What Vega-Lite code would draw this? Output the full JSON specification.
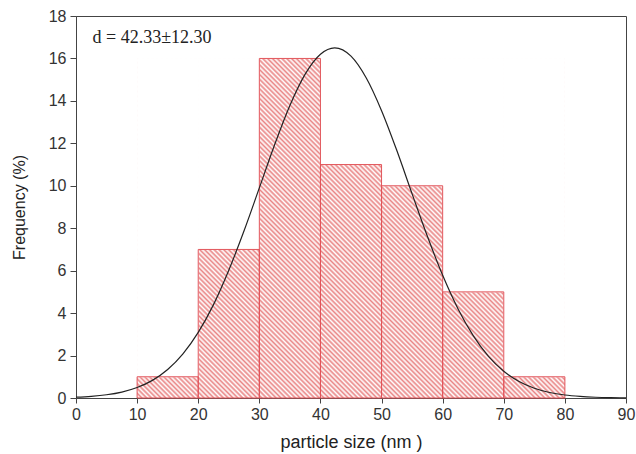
{
  "$schema": "https://vega.github.io/schema/vega-lite/v6.json",
  "width": 550,
  "height": 382,
  "autosize": "none",
  "padding": {"left": 76, "top": 16, "right": 10, "bottom": 56},
  "background": "white",
  "config": {
    "view": {"stroke": "#444", "strokeWidth": 1},
    "font": "Liberation Sans",
    "axis": {"labelFont": "Liberation Sans", "titleFont": "Liberation Sans", "labelColor": "#333", "titleColor": "#222", "domainColor": "#444", "tickColor": "#444", "grid": false, "labelFontSize": 16, "titleFontWeight": "normal", "zindex": 1}
  },
  "datasets": {
    "bars": [
      {"start": 10, "end": 20, "freq": 1},
      {"start": 20, "end": 30, "freq": 7},
      {"start": 30, "end": 40, "freq": 16},
      {"start": 40, "end": 50, "freq": 11},
      {"start": 50, "end": 60, "freq": 10},
      {"start": 60, "end": 70, "freq": 5},
      {"start": 70, "end": 80, "freq": 1}
    ],
    "curve": [
      {"size": 0, "fit": 0.04}, {"size": 2.5, "fit": 0.08}, {"size": 5, "fit": 0.153}, {"size": 7.5, "fit": 0.28},
      {"size": 10, "fit": 0.493}, {"size": 12.5, "fit": 0.83}, {"size": 15, "fit": 1.342}, {"size": 17.5, "fit": 2.08},
      {"size": 20, "fit": 3.09}, {"size": 22.5, "fit": 4.4}, {"size": 25, "fit": 6.02}, {"size": 27.5, "fit": 7.88},
      {"size": 30, "fit": 9.9}, {"size": 32.5, "fit": 11.93}, {"size": 35, "fit": 13.78}, {"size": 37.5, "fit": 15.26},
      {"size": 40, "fit": 16.2}, {"size": 42.33, "fit": 16.5}, {"size": 45, "fit": 16.11}, {"size": 47.5, "fit": 15.08},
      {"size": 50, "fit": 13.54}, {"size": 52.5, "fit": 11.66}, {"size": 55, "fit": 9.62}, {"size": 57.5, "fit": 7.62},
      {"size": 60, "fit": 5.78}, {"size": 62.5, "fit": 4.21}, {"size": 65, "fit": 2.94}, {"size": 67.5, "fit": 1.96},
      {"size": 70, "fit": 1.26}, {"size": 72.5, "fit": 0.775}, {"size": 75, "fit": 0.458}, {"size": 77.5, "fit": 0.259},
      {"size": 80, "fit": 0.14}, {"size": 82.5, "fit": 0.073}, {"size": 85, "fit": 0.036}, {"size": 87.5, "fit": 0.017},
      {"size": 90, "fit": 0.008}
    ],
    "note": [{"label": "d = 42.33±12.30"}]
  },
  "layer": [
    {
      "data": {"name": "bars"},
      "mark": {"type": "rect", "stroke": null, "fill": {"gradient": "linear", "x1": 0, "y1": 1, "x2": 1.1004, "y2": 0.1265, "stops": [
        {"offset":0,"color":"#e98585"},{"offset":0.003125,"color":"#fff"},{"offset":0.00625,"color":"#e98585"},{"offset":0.009375,"color":"#fff"},{"offset":0.0125,"color":"#e98585"},{"offset":0.015625,"color":"#fff"},{"offset":0.01875,"color":"#e98585"},{"offset":0.021875,"color":"#fff"},
        {"offset":0.025,"color":"#e98585"},{"offset":0.028125,"color":"#fff"},{"offset":0.03125,"color":"#e98585"},{"offset":0.034375,"color":"#fff"},{"offset":0.0375,"color":"#e98585"},{"offset":0.040625,"color":"#fff"},{"offset":0.04375,"color":"#e98585"},{"offset":0.046875,"color":"#fff"},
        {"offset":0.05,"color":"#e98585"},{"offset":0.053125,"color":"#fff"},{"offset":0.05625,"color":"#e98585"},{"offset":0.059375,"color":"#fff"},{"offset":0.0625,"color":"#e98585"},{"offset":0.065625,"color":"#fff"},{"offset":0.06875,"color":"#e98585"},{"offset":0.071875,"color":"#fff"},
        {"offset":0.075,"color":"#e98585"},{"offset":0.078125,"color":"#fff"},{"offset":0.08125,"color":"#e98585"},{"offset":0.084375,"color":"#fff"},{"offset":0.0875,"color":"#e98585"},{"offset":0.090625,"color":"#fff"},{"offset":0.09375,"color":"#e98585"},{"offset":0.096875,"color":"#fff"},
        {"offset":0.1,"color":"#e98585"},{"offset":0.103125,"color":"#fff"},{"offset":0.10625,"color":"#e98585"},{"offset":0.109375,"color":"#fff"},{"offset":0.1125,"color":"#e98585"},{"offset":0.115625,"color":"#fff"},{"offset":0.11875,"color":"#e98585"},{"offset":0.121875,"color":"#fff"},
        {"offset":0.125,"color":"#e98585"},{"offset":0.128125,"color":"#fff"},{"offset":0.13125,"color":"#e98585"},{"offset":0.134375,"color":"#fff"},{"offset":0.1375,"color":"#e98585"},{"offset":0.140625,"color":"#fff"},{"offset":0.14375,"color":"#e98585"},{"offset":0.146875,"color":"#fff"},
        {"offset":0.15,"color":"#e98585"},{"offset":0.153125,"color":"#fff"},{"offset":0.15625,"color":"#e98585"},{"offset":0.159375,"color":"#fff"},{"offset":0.1625,"color":"#e98585"},{"offset":0.165625,"color":"#fff"},{"offset":0.16875,"color":"#e98585"},{"offset":0.171875,"color":"#fff"},
        {"offset":0.175,"color":"#e98585"},{"offset":0.178125,"color":"#fff"},{"offset":0.18125,"color":"#e98585"},{"offset":0.184375,"color":"#fff"},{"offset":0.1875,"color":"#e98585"},{"offset":0.190625,"color":"#fff"},{"offset":0.19375,"color":"#e98585"},{"offset":0.196875,"color":"#fff"},
        {"offset":0.2,"color":"#e98585"},{"offset":0.203125,"color":"#fff"},{"offset":0.20625,"color":"#e98585"},{"offset":0.209375,"color":"#fff"},{"offset":0.2125,"color":"#e98585"},{"offset":0.215625,"color":"#fff"},{"offset":0.21875,"color":"#e98585"},{"offset":0.221875,"color":"#fff"},
        {"offset":0.225,"color":"#e98585"},{"offset":0.228125,"color":"#fff"},{"offset":0.23125,"color":"#e98585"},{"offset":0.234375,"color":"#fff"},{"offset":0.2375,"color":"#e98585"},{"offset":0.240625,"color":"#fff"},{"offset":0.24375,"color":"#e98585"},{"offset":0.246875,"color":"#fff"},
        {"offset":0.25,"color":"#e98585"},{"offset":0.253125,"color":"#fff"},{"offset":0.25625,"color":"#e98585"},{"offset":0.259375,"color":"#fff"},{"offset":0.2625,"color":"#e98585"},{"offset":0.265625,"color":"#fff"},{"offset":0.26875,"color":"#e98585"},{"offset":0.271875,"color":"#fff"},
        {"offset":0.275,"color":"#e98585"},{"offset":0.278125,"color":"#fff"},{"offset":0.28125,"color":"#e98585"},{"offset":0.284375,"color":"#fff"},{"offset":0.2875,"color":"#e98585"},{"offset":0.290625,"color":"#fff"},{"offset":0.29375,"color":"#e98585"},{"offset":0.296875,"color":"#fff"},
        {"offset":0.3,"color":"#e98585"},{"offset":0.303125,"color":"#fff"},{"offset":0.30625,"color":"#e98585"},{"offset":0.309375,"color":"#fff"},{"offset":0.3125,"color":"#e98585"},{"offset":0.315625,"color":"#fff"},{"offset":0.31875,"color":"#e98585"},{"offset":0.321875,"color":"#fff"},
        {"offset":0.325,"color":"#e98585"},{"offset":0.328125,"color":"#fff"},{"offset":0.33125,"color":"#e98585"},{"offset":0.334375,"color":"#fff"},{"offset":0.3375,"color":"#e98585"},{"offset":0.340625,"color":"#fff"},{"offset":0.34375,"color":"#e98585"},{"offset":0.346875,"color":"#fff"},
        {"offset":0.35,"color":"#e98585"},{"offset":0.353125,"color":"#fff"},{"offset":0.35625,"color":"#e98585"},{"offset":0.359375,"color":"#fff"},{"offset":0.3625,"color":"#e98585"},{"offset":0.365625,"color":"#fff"},{"offset":0.36875,"color":"#e98585"},{"offset":0.371875,"color":"#fff"},
        {"offset":0.375,"color":"#e98585"},{"offset":0.378125,"color":"#fff"},{"offset":0.38125,"color":"#e98585"},{"offset":0.384375,"color":"#fff"},{"offset":0.3875,"color":"#e98585"},{"offset":0.390625,"color":"#fff"},{"offset":0.39375,"color":"#e98585"},{"offset":0.396875,"color":"#fff"},
        {"offset":0.4,"color":"#e98585"},{"offset":0.403125,"color":"#fff"},{"offset":0.40625,"color":"#e98585"},{"offset":0.409375,"color":"#fff"},{"offset":0.4125,"color":"#e98585"},{"offset":0.415625,"color":"#fff"},{"offset":0.41875,"color":"#e98585"},{"offset":0.421875,"color":"#fff"},
        {"offset":0.425,"color":"#e98585"},{"offset":0.428125,"color":"#fff"},{"offset":0.43125,"color":"#e98585"},{"offset":0.434375,"color":"#fff"},{"offset":0.4375,"color":"#e98585"},{"offset":0.440625,"color":"#fff"},{"offset":0.44375,"color":"#e98585"},{"offset":0.446875,"color":"#fff"},
        {"offset":0.45,"color":"#e98585"},{"offset":0.453125,"color":"#fff"},{"offset":0.45625,"color":"#e98585"},{"offset":0.459375,"color":"#fff"},{"offset":0.4625,"color":"#e98585"},{"offset":0.465625,"color":"#fff"},{"offset":0.46875,"color":"#e98585"},{"offset":0.471875,"color":"#fff"},
        {"offset":0.475,"color":"#e98585"},{"offset":0.478125,"color":"#fff"},{"offset":0.48125,"color":"#e98585"},{"offset":0.484375,"color":"#fff"},{"offset":0.4875,"color":"#e98585"},{"offset":0.490625,"color":"#fff"},{"offset":0.49375,"color":"#e98585"},{"offset":0.496875,"color":"#fff"},
        {"offset":0.5,"color":"#e98585"},{"offset":0.503125,"color":"#fff"},{"offset":0.50625,"color":"#e98585"},{"offset":0.509375,"color":"#fff"},{"offset":0.5125,"color":"#e98585"},{"offset":0.515625,"color":"#fff"},{"offset":0.51875,"color":"#e98585"},{"offset":0.521875,"color":"#fff"},
        {"offset":0.525,"color":"#e98585"},{"offset":0.528125,"color":"#fff"},{"offset":0.53125,"color":"#e98585"},{"offset":0.534375,"color":"#fff"},{"offset":0.5375,"color":"#e98585"},{"offset":0.540625,"color":"#fff"},{"offset":0.54375,"color":"#e98585"},{"offset":0.546875,"color":"#fff"},
        {"offset":0.55,"color":"#e98585"},{"offset":0.553125,"color":"#fff"},{"offset":0.55625,"color":"#e98585"},{"offset":0.559375,"color":"#fff"},{"offset":0.5625,"color":"#e98585"},{"offset":0.565625,"color":"#fff"},{"offset":0.56875,"color":"#e98585"},{"offset":0.571875,"color":"#fff"},
        {"offset":0.575,"color":"#e98585"},{"offset":0.578125,"color":"#fff"},{"offset":0.58125,"color":"#e98585"},{"offset":0.584375,"color":"#fff"},{"offset":0.5875,"color":"#e98585"},{"offset":0.590625,"color":"#fff"},{"offset":0.59375,"color":"#e98585"},{"offset":0.596875,"color":"#fff"},
        {"offset":0.6,"color":"#e98585"},{"offset":0.603125,"color":"#fff"},{"offset":0.60625,"color":"#e98585"},{"offset":0.609375,"color":"#fff"},{"offset":0.6125,"color":"#e98585"},{"offset":0.615625,"color":"#fff"},{"offset":0.61875,"color":"#e98585"},{"offset":0.621875,"color":"#fff"},
        {"offset":0.625,"color":"#e98585"},{"offset":0.628125,"color":"#fff"},{"offset":0.63125,"color":"#e98585"},{"offset":0.634375,"color":"#fff"},{"offset":0.6375,"color":"#e98585"},{"offset":0.640625,"color":"#fff"},{"offset":0.64375,"color":"#e98585"},{"offset":0.646875,"color":"#fff"},
        {"offset":0.65,"color":"#e98585"},{"offset":0.653125,"color":"#fff"},{"offset":0.65625,"color":"#e98585"},{"offset":0.659375,"color":"#fff"},{"offset":0.6625,"color":"#e98585"},{"offset":0.665625,"color":"#fff"},{"offset":0.66875,"color":"#e98585"},{"offset":0.671875,"color":"#fff"},
        {"offset":0.675,"color":"#e98585"},{"offset":0.678125,"color":"#fff"},{"offset":0.68125,"color":"#e98585"},{"offset":0.684375,"color":"#fff"},{"offset":0.6875,"color":"#e98585"},{"offset":0.690625,"color":"#fff"},{"offset":0.69375,"color":"#e98585"},{"offset":0.696875,"color":"#fff"},
        {"offset":0.7,"color":"#e98585"},{"offset":0.703125,"color":"#fff"},{"offset":0.70625,"color":"#e98585"},{"offset":0.709375,"color":"#fff"},{"offset":0.7125,"color":"#e98585"},{"offset":0.715625,"color":"#fff"},{"offset":0.71875,"color":"#e98585"},{"offset":0.721875,"color":"#fff"},
        {"offset":0.725,"color":"#e98585"},{"offset":0.728125,"color":"#fff"},{"offset":0.73125,"color":"#e98585"},{"offset":0.734375,"color":"#fff"},{"offset":0.7375,"color":"#e98585"},{"offset":0.740625,"color":"#fff"},{"offset":0.74375,"color":"#e98585"},{"offset":0.746875,"color":"#fff"},
        {"offset":0.75,"color":"#e98585"},{"offset":0.753125,"color":"#fff"},{"offset":0.75625,"color":"#e98585"},{"offset":0.759375,"color":"#fff"},{"offset":0.7625,"color":"#e98585"},{"offset":0.765625,"color":"#fff"},{"offset":0.76875,"color":"#e98585"},{"offset":0.771875,"color":"#fff"},
        {"offset":0.775,"color":"#e98585"},{"offset":0.778125,"color":"#fff"},{"offset":0.78125,"color":"#e98585"},{"offset":0.784375,"color":"#fff"},{"offset":0.7875,"color":"#e98585"},{"offset":0.790625,"color":"#fff"},{"offset":0.79375,"color":"#e98585"},{"offset":0.796875,"color":"#fff"},
        {"offset":0.8,"color":"#e98585"},{"offset":0.803125,"color":"#fff"},{"offset":0.80625,"color":"#e98585"},{"offset":0.809375,"color":"#fff"},{"offset":0.8125,"color":"#e98585"},{"offset":0.815625,"color":"#fff"},{"offset":0.81875,"color":"#e98585"},{"offset":0.821875,"color":"#fff"},
        {"offset":0.825,"color":"#e98585"},{"offset":0.828125,"color":"#fff"},{"offset":0.83125,"color":"#e98585"},{"offset":0.834375,"color":"#fff"},{"offset":0.8375,"color":"#e98585"},{"offset":0.840625,"color":"#fff"},{"offset":0.84375,"color":"#e98585"},{"offset":0.846875,"color":"#fff"},
        {"offset":0.85,"color":"#e98585"},{"offset":0.853125,"color":"#fff"},{"offset":0.85625,"color":"#e98585"},{"offset":0.859375,"color":"#fff"},{"offset":0.8625,"color":"#e98585"},{"offset":0.865625,"color":"#fff"},{"offset":0.86875,"color":"#e98585"},{"offset":0.871875,"color":"#fff"},
        {"offset":0.875,"color":"#e98585"},{"offset":0.878125,"color":"#fff"},{"offset":0.88125,"color":"#e98585"},{"offset":0.884375,"color":"#fff"},{"offset":0.8875,"color":"#e98585"},{"offset":0.890625,"color":"#fff"},{"offset":0.89375,"color":"#e98585"},{"offset":0.896875,"color":"#fff"},
        {"offset":0.9,"color":"#e98585"},{"offset":0.903125,"color":"#fff"},{"offset":0.90625,"color":"#e98585"},{"offset":0.909375,"color":"#fff"},{"offset":0.9125,"color":"#e98585"},{"offset":0.915625,"color":"#fff"},{"offset":0.91875,"color":"#e98585"},{"offset":0.921875,"color":"#fff"},
        {"offset":0.925,"color":"#e98585"},{"offset":0.928125,"color":"#fff"},{"offset":0.93125,"color":"#e98585"},{"offset":0.934375,"color":"#fff"},{"offset":0.9375,"color":"#e98585"},{"offset":0.940625,"color":"#fff"},{"offset":0.94375,"color":"#e98585"},{"offset":0.946875,"color":"#fff"},
        {"offset":0.95,"color":"#e98585"},{"offset":0.953125,"color":"#fff"},{"offset":0.95625,"color":"#e98585"},{"offset":0.959375,"color":"#fff"},{"offset":0.9625,"color":"#e98585"},{"offset":0.965625,"color":"#fff"},{"offset":0.96875,"color":"#e98585"},{"offset":0.971875,"color":"#fff"},
        {"offset":0.975,"color":"#e98585"},{"offset":0.978125,"color":"#fff"},{"offset":0.98125,"color":"#e98585"},{"offset":0.984375,"color":"#fff"},{"offset":0.9875,"color":"#e98585"},{"offset":0.990625,"color":"#fff"},{"offset":0.99375,"color":"#e98585"},{"offset":0.996875,"color":"#fff"},
        {"offset":1,"color":"#e98585"}
      ]}},
      "encoding": {
        "x": {"aggregate": "min", "field": "start", "type": "quantitative", "scale": {"domain": [0, 90], "nice": false},
              "axis": {"values": [0,5,10,15,20,25,30,35,40,45,50,55,60,65,70,75,80,85,90], "labelExpr": "datum.value % 10 === 0 ? datum.label : ''", "title": "particle size (nm )", "titleFontSize": 18, "tickSize": {"condition": {"test": "datum.value % 10 !== 0", "value": 3}, "value": 5}, "labelPadding": 3, "titlePadding": 11, "labelFlush": false}},
        "x2": {"aggregate": "max", "field": "end"},
        "y": {"aggregate": "max", "field": "freq", "type": "quantitative", "scale": {"domain": [0, 18], "nice": false},
              "axis": {"values": [0,1,2,3,4,5,6,7,8,9,10,11,12,13,14,15,16,17,18], "labelExpr": "datum.value % 2 === 0 ? datum.label : ''", "title": "Frequency (%)", "titleFontSize": 16, "tickSize": {"condition": {"test": "datum.value % 2 !== 0", "value": 3}, "value": 6}, "labelPadding": 4, "titlePadding": 21, "labelFlush": false}},
        "y2": {"datum": 0}
      }
    },
    {
      "data": {"name": "bars"},
      "mark": {"type": "rect", "fill": "white", "stroke": "white", "strokeWidth": 1},
      "encoding": {
        "x": {"field": "start", "type": "quantitative"},
        "x2": {"field": "end"},
        "y": {"field": "freq", "type": "quantitative"},
        "y2": {"datum": 16}
      }
    },
    {
      "data": {"name": "bars"},
      "mark": {"type": "rect", "fill": null, "stroke": "#e2545a", "strokeWidth": 1},
      "encoding": {
        "x": {"field": "start", "type": "quantitative"},
        "x2": {"field": "end"},
        "y": {"field": "freq", "type": "quantitative"},
        "y2": {"datum": 0}
      }
    },
    {
      "data": {"name": "curve"},
      "mark": {"type": "line", "color": "#222", "strokeWidth": 1.2, "interpolate": "monotone"},
      "encoding": {
        "x": {"field": "size", "type": "quantitative"},
        "y": {"field": "fit", "type": "quantitative"}
      }
    },
    {
      "data": {"name": "note"},
      "mark": {"type": "text", "font": "Liberation Serif", "fontSize": 18, "align": "left", "baseline": "middle", "color": "#222"},
      "encoding": {
        "x": {"datum": 2.7, "type": "quantitative"},
        "y": {"datum": 16.95, "type": "quantitative"},
        "text": {"field": "label"}
      }
    }
  ]
}
